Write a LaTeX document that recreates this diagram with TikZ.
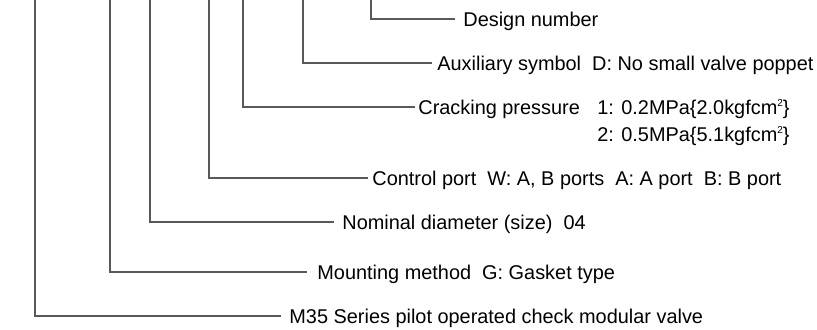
\documentclass[tikz,border=0pt]{standalone}
\usepackage{fontspec}
\setmainfont{Liberation Sans}
\usetikzlibrary{positioning}
\newcommand\sqr{\raisebox{.75ex}{\fontsize{5}{5}\selectfont 2}}
\begin{document}
\begin{tikzpicture}[x=.5pt,y=-.5pt, lbl/.style={anchor=west,inner sep=0pt,text height=7.1pt,text depth=0pt,font=\fontsize{9.95}{12}\selectfont}, leader/.style={draw=black!65,line width=.6pt}]
\useasboundingbox (0,0) rectangle (817,329);
\path (463,19) node[lbl] (des) {Design number}
(437,63) node[lbl] (aux) {Auxiliary symbol\ \ D: No small valve poppet}
(418,107) node[lbl] (crk) {Cracking pressure}
(597,107) node[lbl] (crkA) {1: 0.2MPa\{2.0kgfcm\sqr\}}
(372,178) node[lbl] (ctl) {Control port\ \ W: A, B ports\ \ A: A port\ \ B: B port}
(342,222) node[lbl] (nom) {Nominal diameter (size)\ \ 04}
(317,272) node[lbl] (mnt) {Mounting method\ \ G: Gasket type}
(289,316) node[lbl] (ser) {M35 Series pilot operated check modular valve};
\node[lbl, below=6pt of crkA.south west, anchor=north west] (crkB) {2: 0.5MPa\{5.1kgfcm\sqr\}};
% leaders from the top edge to each label
\foreach \x/\n/\g in {371/des/8, 303/aux/5, 243/crk/3, 209/ctl/4, 150/nom/8, 110/mnt/10, 35/ser/8}
  \draw[leader] (\x,0) coordinate (t\n) |- ([shift={(-\g,0)}]\n.west);
\end{tikzpicture}
\end{document}
